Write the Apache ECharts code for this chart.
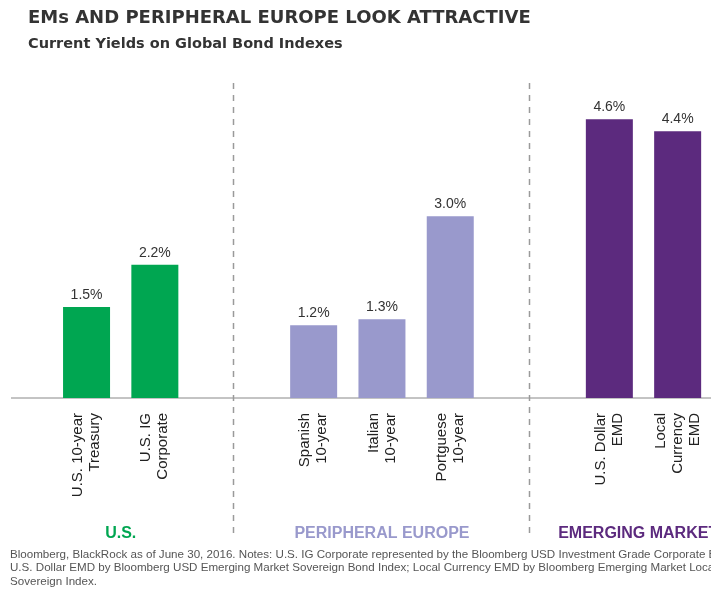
<!DOCTYPE html>
<html>
<head>
<meta charset="utf-8">
<script src="https://cdn.jsdelivr.net/npm/echarts@6/dist/echarts.min.js"></script>
<style>
html,body{margin:0;padding:0;background:#fff;}
#chart{width:711px;height:607px;}
</style>
</head>
<body>
<div id="chart"></div>
<script>
// ---- data ----
const titleText = 'EMs AND PERIPHERAL EUROPE LOOK ATTRACTIVE';
const subtitleText = 'Current Yields on Global Bond Indexes';
const groupNames = ['U.S.', 'PERIPHERAL EUROPE', 'EMERGING MARKETS'];
const usCats = ['U.S. 10-year\nTreasury', 'U.S. IG\nCorporate'];
const usVals = [1.5, 2.2];
const peCats = ['Spanish\n10-year', 'Italian\n10-year', 'Portguese\n10-year'];
const peVals = [1.2, 1.3, 3.0];
const emCats = ['U.S. Dollar\nEMD', 'Local\nCurrency\nEMD'];
const emVals = [4.6, 4.4];
const footnoteLines = [
  'Bloomberg, BlackRock as of June 30, 2016. Notes: U.S. IG Corporate represented by the Bloomberg USD Investment Grade Corporate Bond Index;',
  'U.S. Dollar EMD by Bloomberg USD Emerging Market Sovereign Bond Index; Local Currency EMD by Bloomberg Emerging Market Local Currency',
  'Sovereign Index.'
];

// ---- layout / style ----
const groupColors = ['#00a651', '#9999cc', '#5c2a7e'];
const catSets = [usCats, peCats, emCats];
const valSets = [usVals, peVals, emVals];
const grids = [
  {left: 52.4, width: 136.6, top: 95, bottom: 209, outerBoundsMode: 'none', containLabel: false},
  {left: 279.5, width: 204.9, top: 95, bottom: 209, outerBoundsMode: 'none', containLabel: false},
  {left: 575.2, width: 136.6, top: 95, bottom: 209, outerBoundsMode: 'none', containLabel: false}
];

const chart = echarts.init(document.getElementById('chart'), null, {renderer: 'canvas'});

const xAxes = [], yAxes = [], series = [];
for (let i = 0; i < 3; i++) {
  xAxes.push({
    type: 'category', gridIndex: i, data: catSets[i],
    axisLine: {show: false}, axisTick: {show: false},
    axisLabel: {rotate: 90, margin: 15, fontSize: 15, lineHeight: 17, color: '#222', fontFamily: 'Liberation Sans, Arial, sans-serif', interval: 0},
    name: groupNames[i], nameLocation: 'middle', nameGap: 128,
    nameTextStyle: {color: groupColors[i], fontSize: 16, fontWeight: 'bold', fontFamily: 'Liberation Sans, Arial, sans-serif'}
  });
  yAxes.push({type: 'value', gridIndex: i, min: 0, max: 5, show: false, splitLine: {show: false}});
  series.push({
    type: 'bar', xAxisIndex: i, yAxisIndex: i, data: valSets[i], barWidth: 47,
    itemStyle: {color: groupColors[i]},
    label: {show: true, position: 'top', distance: 5, fontSize: 14, color: '#333', fontFamily: 'Liberation Sans, Arial, sans-serif',
      formatter: p => p.value.toFixed(1) + '%'},
    silent: true, animation: false
  });
}

const dashStyle = {stroke: '#9a9a9a', lineWidth: 1.5, lineDash: [6, 6]};
chart.setOption({
  animation: false,
  title: [
    {text: titleText, left: 28, top: 9, padding: 0, textStyle: {fontSize: 18, fontWeight: 'bold', color: '#333', fontFamily: 'DejaVu Sans, sans-serif'}},
    {text: subtitleText, left: 28, top: 37, padding: 0, textStyle: {fontSize: 14.5, fontWeight: 'bold', color: '#333', fontFamily: 'DejaVu Sans, sans-serif'}}
  ],
  grid: grids,
  xAxis: xAxes,
  yAxis: yAxes,
  series: series,
  graphic: [
    {type: 'line', shape: {x1: 11, y1: 398, x2: 711, y2: 398}, style: {stroke: '#888', lineWidth: 1}, silent: true},
    {type: 'line', shape: {x1: 233.5, y1: 83, x2: 233.5, y2: 537}, style: dashStyle, silent: true},
    {type: 'line', shape: {x1: 529.5, y1: 83, x2: 529.5, y2: 537}, style: dashStyle, silent: true},
    {type: 'text', left: 10, top: 548, style: {text: footnoteLines.join('\n'), fontSize: 11.6, lineHeight: 13.5, fill: '#555', fontFamily: 'Liberation Sans, Arial, sans-serif'}, silent: true}
  ]
});
</script>
</body>
</html>
